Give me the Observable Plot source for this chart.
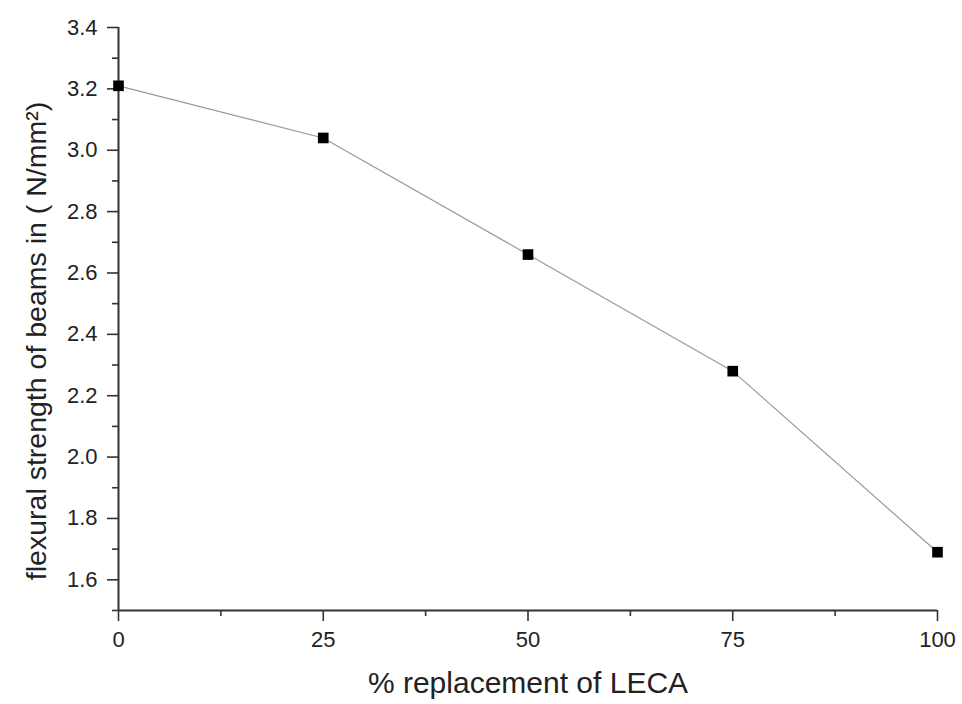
<!DOCTYPE html>
<html><head><meta charset="utf-8">
<script src="https://cdn.jsdelivr.net/npm/d3@7"></script>
<script src="https://cdn.jsdelivr.net/npm/@observablehq/plot@0.6"></script>
<style>body{margin:0;background:#fff} svg{display:block}</style>
</head><body><div id="chart"></div>
<script>
const replacement = [0, 25, 50, 75, 100];
const strength = [3.21, 3.04, 2.66, 2.28, 1.69];
const xMajorTicks = [0, 25, 50, 75, 100];
const xMinorTicks = [12.5, 37.5, 62.5, 87.5];
const yMajorTicks = [1.6, 1.8, 2.0, 2.2, 2.4, 2.6, 2.8, 3.0, 3.2, 3.4];
const yMinorTicks = [1.5, 1.7, 1.9, 2.1, 2.3, 2.5, 2.7, 2.9, 3.1, 3.3];
const xLabel = "% replacement of LECA";
const yLabel = "flexural strength of beams in ( N/mm²)";

const data = replacement.map((x, i) => ({x, y: strength[i]}));
const axisColor = "#333";

const chart = Plot.plot({
  width: 962,
  height: 704,
  marginLeft: 118,
  marginRight: 25,
  marginTop: 27,
  marginBottom: 94,
  x: {domain: [0, 100]},
  y: {domain: [1.5, 3.4]},
  style: {fontFamily: "'Liberation Sans', Arial, sans-serif", fontSize: "22px", color: "#222", background: "#fff"},
  marks: [
    Plot.axisX({ticks: xMajorTicks, tickSize: 11, tickPadding: 10, tickFormat: d => String(d), label: null, stroke: axisColor, strokeWidth: 1.6, fontSize: 22}),
    Plot.axisX({ticks: xMinorTicks, tickSize: 6, tickFormat: () => "", label: null, stroke: axisColor, strokeWidth: 1.6}),
    Plot.axisY({ticks: yMajorTicks, tickSize: 11, tickPadding: 10, tickFormat: d3.format(".1f"), label: null, stroke: axisColor, strokeWidth: 1.6, fontSize: 22}),
    Plot.axisY({ticks: yMinorTicks, tickSize: 6, tickFormat: () => "", label: null, stroke: axisColor, strokeWidth: 1.6}),
    Plot.ruleX([0], {stroke: axisColor, strokeWidth: 2}),
    Plot.ruleY([1.5], {stroke: axisColor, strokeWidth: 2}),
    Plot.line(data, {x: "x", y: "y", stroke: "#999", strokeWidth: 1.2}),
    Plot.dot(data, {x: "x", y: "y", symbol: "square", r: 6, fill: "#000", stroke: "none"}),
    Plot.text([yLabel], {text: d => d, frameAnchor: "left", dx: -82, dy: 22, rotate: -90, fontSize: 28.5, textAnchor: "middle", fill: "#222"}),
    Plot.text([xLabel], {text: d => d, frameAnchor: "bottom", dy: 82, fontSize: 30, textAnchor: "middle", fill: "#222"})
  ]
});
document.getElementById("chart").append(chart);
</script>
</body></html>
